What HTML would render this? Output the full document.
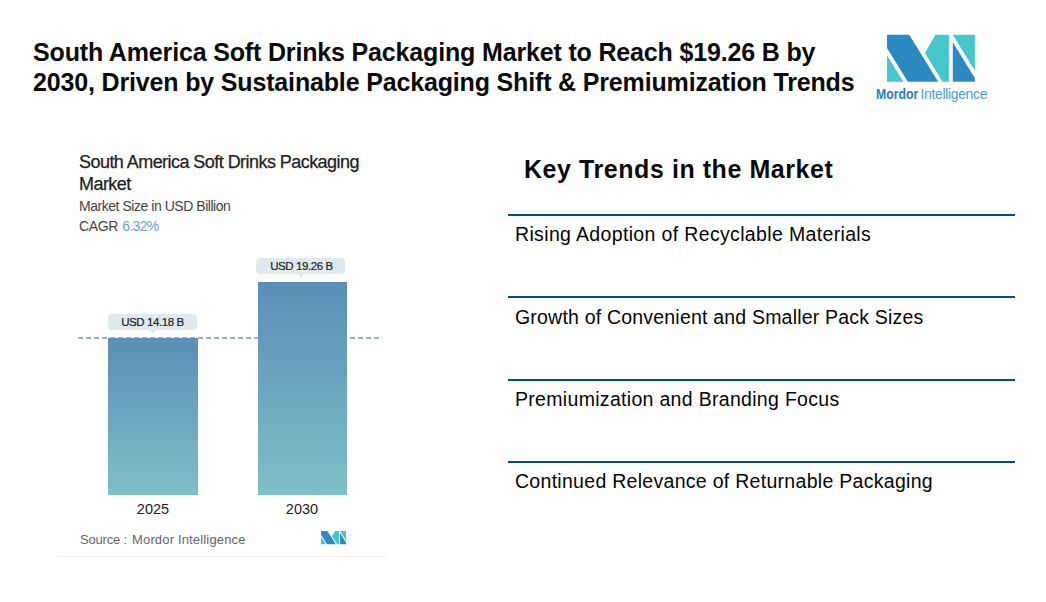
<!DOCTYPE html>
<html>
<head>
<meta charset="utf-8">
<style>
html,body{margin:0;padding:0;background:#fff;}
body{width:1046px;height:602px;position:relative;overflow:hidden;font-family:"Liberation Sans",sans-serif;color:#000;}
.abs{position:absolute;white-space:nowrap;}
#t1,#t2{left:33px;font-weight:bold;font-size:25px;letter-spacing:-0.16px;line-height:30px;color:#0a0a0a;}
#t1{top:36.6px;}
#t2{top:66.6px;}

#lt1{left:876.3px;top:86px;font-size:14px;transform:scaleX(0.875);transform-origin:0 0;font-weight:bold;line-height:16px;color:#2a7db5;}
#lt2{left:920.5px;top:86px;font-size:14px;letter-spacing:-0.35px;line-height:16px;color:#4ba0d0;}
#ct1,#ct2{left:79px;font-size:18px;letter-spacing:-0.55px;line-height:22px;color:#222;-webkit-text-stroke:0.25px #222;}
#ct1{top:151px;}
#ct2{top:173px;}
#cs{left:79px;top:198px;font-size:14px;letter-spacing:-0.46px;line-height:16px;color:#444;}
#cg{left:79px;top:218px;font-size:14px;letter-spacing:-0.4px;line-height:16px;color:#444;}
#cg span{color:#6a9fd2;margin-left:1px;letter-spacing:-0.7px;}
.bar{position:absolute;background:linear-gradient(#5b8db6,#7fbfc8);}
.lab{position:absolute;background:#e0e9ed;border-radius:4px;font-size:11.5px;letter-spacing:-0.4px;line-height:16px;text-align:center;color:#222;-webkit-text-stroke:0.2px #222;}
.lab:after{content:"";position:absolute;left:50%;bottom:-4px;margin-left:-3px;border-left:3px solid transparent;border-right:3px solid transparent;border-top:4px solid #e0e9ed;}
.yr{position:absolute;font-size:14.5px;line-height:16px;color:#222;text-align:center;width:90px;}
#dash{position:absolute;left:78px;top:337px;width:302px;height:2px;background:repeating-linear-gradient(90deg,#98b6d0 0 5px,transparent 5px 8px);}
#src,#src2{top:532px;font-size:13px;line-height:16px;color:#666;}
#src{left:80px;letter-spacing:-0.2px;}
#src2{left:132px;letter-spacing:0.16px;}
#hr{position:absolute;left:58px;top:556px;width:329px;height:1px;background:#efefef;}
#kt{left:524px;top:154px;font-size:25px;font-weight:bold;letter-spacing:0.56px;line-height:30px;color:#0a0a0a;}
.rule{position:absolute;left:508px;width:507px;height:2px;background:#064f7a;}
.item{position:absolute;left:515px;font-size:19.5px;letter-spacing:0.35px;line-height:22px;color:#050505;white-space:nowrap;}
</style>
</head>
<body>
<div id="t1" class="abs">South America Soft Drinks Packaging Market to Reach $19.26 B by</div>
<div id="t2" class="abs">2030, Driven by Sustainable Packaging Shift &amp; Premiumization Trends</div>

<svg id="logo" class="abs" style="left:0;top:0" width="1046" height="602">
  <polygon fill="#2c8ac0" points="887,34.8 909.2,34.8 938.2,81.8 907.8,81.8 887,47.9"/>
  <polygon fill="#45c7cc" points="887,55.2 887,81.8 903.4,81.8"/>
  <polygon fill="#45c7cc" points="935.5,34.8 948.9,34.8 948.9,81.8 942.6,81.8 924.9,52.9"/>
  <polygon fill="#2c8ac0" points="952.8,42.2 974.9,78.2 974.9,81.8 952.8,81.8"/>
  <polygon fill="#45c7cc" points="952.8,34.8 974.9,34.8 974.9,71"/>
</svg>
<div id="lt1" class="abs">Mordor</div>
<div id="lt2" class="abs">Intelligence</div>

<div id="ct1" class="abs">South America Soft Drinks Packaging</div>
<div id="ct2" class="abs">Market</div>
<div id="cs" class="abs">Market Size in USD Billion</div>
<div id="cg" class="abs">CAGR <span>6.32%</span></div>

<div id="dash"></div>
<div class="bar" style="left:108px;top:338px;width:90px;height:157px;"></div>
<div class="bar" style="left:258px;top:282px;width:89px;height:213px;"></div>
<div class="lab" style="left:108px;top:314px;width:89px;">USD 14.18 B</div>
<div class="lab" style="left:256px;top:258px;width:89px;box-sizing:border-box;padding-left:2px;">USD 19.26 B</div>
<div class="yr" style="left:108px;top:501px;">2025</div>
<div class="yr" style="left:257px;top:501px;">2030</div>
<div id="src" class="abs">Source :</div>
<div id="src2" class="abs">Mordor Intelligence</div>
<svg class="abs" style="left:320.6px;top:531.4px" width="25.5" height="13.3" viewBox="887 34.6 88 47.5" preserveAspectRatio="none">
  <polygon fill="#2e8bc0" points="887,34.6 909.2,34.6 938.4,82.1 907.8,82.1 887,47.7"/>
  <polygon fill="#45c6cc" points="887,55 887,82.1 903.5,82.1"/>
  <polygon fill="#45c6cc" points="935.5,34.6 948.9,34.6 948.9,82.1 942.7,82.1 924.8,52.8"/>
  <polygon fill="#2e8bc0" points="952.7,42 974.9,78.3 974.9,82.1 952.7,82.1"/>
  <polygon fill="#45c6cc" points="952.8,34.6 974.9,34.6 974.9,71"/>
</svg>
<div id="hr"></div>

<div id="kt" class="abs">Key Trends in the Market</div>
<div class="rule" style="top:214px"></div>
<div id="i1" class="item" style="top:223px">Rising Adoption of Recyclable Materials</div>
<div class="rule" style="top:296px"></div>
<div id="i2" class="item" style="top:306px;letter-spacing:0.2px">Growth of Convenient and Smaller Pack Sizes</div>
<div class="rule" style="top:379px"></div>
<div id="i3" class="item" style="top:388px;letter-spacing:0.31px">Premiumization and Branding Focus</div>
<div class="rule" style="top:461px"></div>
<div id="i4" class="item" style="top:470px;letter-spacing:0.29px">Continued Relevance of Returnable Packaging</div>
</body>
</html>
